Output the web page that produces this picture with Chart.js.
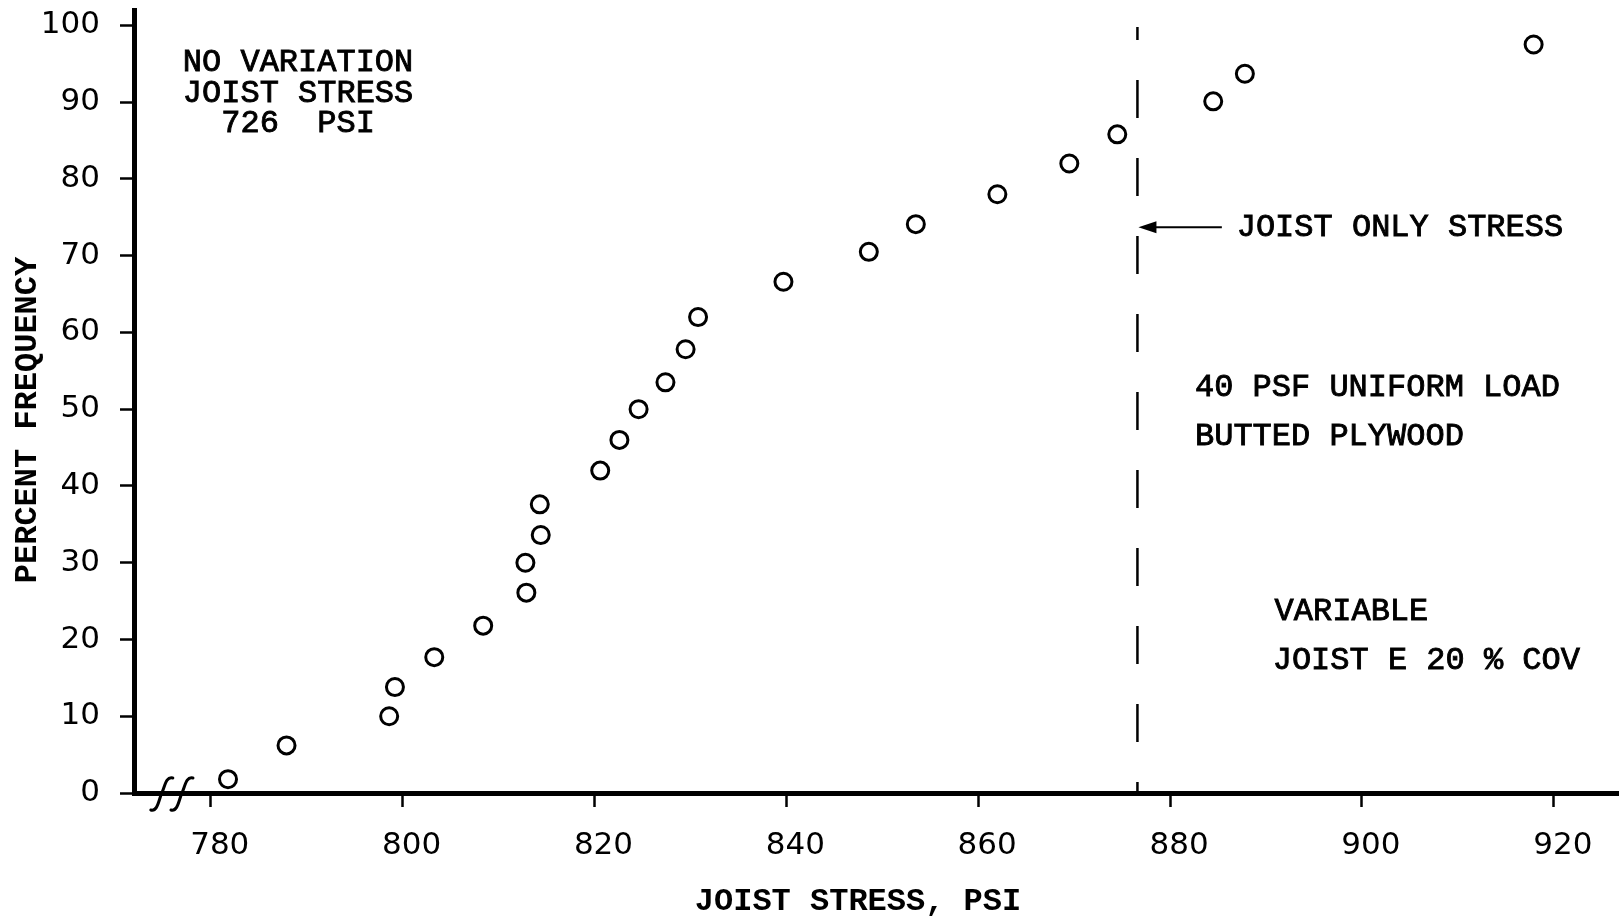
<!DOCTYPE html>
<html>
<head>
<meta charset="utf-8">
<script src="https://cdn.jsdelivr.net/npm/chart.js@4.4.1/dist/chart.umd.min.js"></script>
<style>
  html, body { margin: 0; padding: 0; background: #fff; overflow: hidden; }
  #wrap { position: relative; width: 1619px; height: 920px; }
</style>
</head>
<body>
<div id="wrap"><canvas id="c" width="1619" height="920"></canvas></div>
<script>
// Joist stress (psi) and cumulative percent frequency for each simulated floor
const stressPsi = [781.8, 787.9, 798.6, 799.2, 803.3, 808.4, 812.9, 812.8, 814.4, 814.3,
                   820.6, 822.6, 824.6, 827.4, 829.5, 830.8, 839.7, 848.6, 853.5, 862.0,
                   869.5, 874.5, 884.5, 887.8, 917.9];
const percentFrequency = [1.8, 6.2, 10, 13.8, 17.7, 21.8, 26.1, 30, 33.6, 37.6,
                          42, 46, 50, 53.5, 57.8, 62, 66.6, 70.5, 74.1, 78,
                          82, 85.8, 90.1, 93.7, 97.5];

// Axis ticks
const xTickValues = [780, 800, 820, 840, 860, 880, 900, 920];
const yTickValues = [0, 10, 20, 30, 40, 50, 60, 70, 80, 90, 100];

// Reference stress of the joist acting alone (dashed line)
const joistOnlyStress = 876.6;

// Axis break marks on the stress axis
const breakMarks = [774.9, 777.0];

// Text notes, placed in data units
const notes = [
  { text: 'NO VARIATION', x: 789.1, y: 95.2, align: 'center' },
  { text: 'JOIST STRESS', x: 789.1, y: 91.1, align: 'center' },
  { text: '726  PSI',     x: 789.1, y: 87.2, align: 'center' },
  { text: 'JOIST ONLY STRESS',   x: 886.95, y: 73.7, align: 'left' },
  { text: '40 PSF UNIFORM LOAD', x: 882.6, y: 52.8, align: 'left' },
  { text: 'BUTTED PLYWOOD',      x: 882.6, y: 46.5, align: 'left' },
  { text: 'VARIABLE',            x: 890.9, y: 23.6, align: 'left' },
  { text: 'JOIST E 20 % COV',    x: 890.7, y: 17.3, align: 'left' }
];
const arrowNote = { fromX: 885.4, y: 73.7 };

const xTitle = 'JOIST STRESS, PSI';
const yTitle = 'PERCENT FREQUENCY';

const INK = '#000';
const noteFont = '32px "Liberation Mono", "DejaVu Sans Mono", monospace';
const titleFont = 'bold 32px "Liberation Mono", "DejaVu Sans Mono", monospace';
const tickFont = { family: '"DejaVu Sans", sans-serif', size: 31 };

const decorations = {
  id: 'decorations',
  afterDatasetsDraw(chart) {
    const { ctx, chartArea, scales } = chart;
    const xs = scales.x, ys = scales.y;
    ctx.save();

    // dashed reference line
    const lx = xs.getPixelForValue(joistOnlyStress);
    ctx.strokeStyle = INK;
    ctx.lineWidth = 2.5;
    ctx.setLineDash([38, 40]);
    ctx.lineDashOffset = 25;
    ctx.beginPath();
    ctx.moveTo(lx, ys.getPixelForValue(99.8));
    ctx.lineTo(lx, chartArea.bottom);
    ctx.stroke();
    ctx.setLineDash([]);

    // arrow pointing at the line
    const ay = ys.getPixelForValue(arrowNote.y);
    const ax0 = xs.getPixelForValue(arrowNote.fromX);
    const tip = lx + 1;
    ctx.lineWidth = 2;
    ctx.beginPath();
    ctx.moveTo(ax0, ay);
    ctx.lineTo(tip + 14, ay);
    ctx.stroke();
    ctx.fillStyle = INK;
    ctx.beginPath();
    ctx.moveTo(tip, ay);
    ctx.lineTo(tip + 18, ay - 6);
    ctx.lineTo(tip + 18, ay + 6);
    ctx.closePath();
    ctx.fill();

    // axis break marks
    const by = chartArea.bottom;
    ctx.lineWidth = 3;
    ctx.lineCap = 'round';
    breakMarks.forEach(v => {
      const bx = xs.getPixelForValue(v);
      ctx.beginPath();
      ctx.moveTo(bx - 11, by + 17);
      ctx.bezierCurveTo(bx - 4, by + 19, bx - 3, by + 6, bx, by);
      ctx.bezierCurveTo(bx + 3, by - 6, bx + 4, by - 17, bx + 11, by - 15);
      ctx.stroke();
    });

    // notes (slightly heavier strokes, typewriter style)
    ctx.font = noteFont;
    ctx.fillStyle = INK;
    ctx.strokeStyle = INK;
    ctx.lineWidth = 0.9;
    ctx.textBaseline = 'middle';
    notes.forEach(n => {
      ctx.textAlign = n.align;
      const px = xs.getPixelForValue(n.x), py = ys.getPixelForValue(n.y);
      ctx.fillText(n.text, px, py);
      ctx.strokeText(n.text, px, py);
    });

    // axis titles
    ctx.font = titleFont;
    ctx.textAlign = 'center';
    ctx.fillText(xTitle, 858, 902);
    ctx.save();
    ctx.translate(28, 420);
    ctx.rotate(-Math.PI / 2);
    ctx.fillText(yTitle, 0, 0);
    ctx.restore();

    ctx.restore();
  }
};

new Chart(document.getElementById('c'), {
  type: 'scatter',
  data: {
    datasets: [{
      data: stressPsi.map((x, i) => ({ x, y: percentFrequency[i] })),
      pointStyle: 'circle',
      pointRadius: 8.5,
      pointHoverRadius: 8.5,
      borderWidth: 3,
      borderColor: INK,
      backgroundColor: '#fff'
    }]
  },
  options: {
    responsive: false,
    devicePixelRatio: 1,
    animation: false,
    layout: { autoPadding: false, padding: { top: 10, left: 0, right: 0, bottom: 0 } },
    plugins: { legend: { display: false }, tooltip: { enabled: false } },
    scales: {
      x: {
        type: 'linear',
        min: 772,
        max: 926.8,
        afterBuildTicks(s) { s.ticks = xTickValues.map(v => ({ value: v })); },
        afterFit(s) { s.height = 127; s.paddingLeft = 0; s.paddingRight = 0; },
        border: { display: true, width: 5, color: INK },
        grid: { display: true, drawOnChartArea: false, drawTicks: true, tickLength: 14, tickWidth: 2.5, tickColor: INK },
        ticks: { color: INK, font: tickFont, padding: 20, labelOffset: 9, maxRotation: 0, autoSkip: false }
      },
      y: {
        type: 'linear',
        min: 0,
        max: 102,
        afterBuildTicks(s) { s.ticks = yTickValues.map(v => ({ value: v })); },
        afterFit(s) { s.width = 134; s.paddingTop = 0; s.paddingBottom = 0; },
        border: { display: true, width: 5, color: INK },
        grid: { display: true, drawOnChartArea: false, drawTicks: true, tickLength: 14, tickWidth: 2.5, tickColor: INK },
        ticks: { color: INK, font: tickFont, padding: 20, autoSkip: false }
      }
    }
  },
  plugins: [decorations]
});
</script>
</body>
</html>
